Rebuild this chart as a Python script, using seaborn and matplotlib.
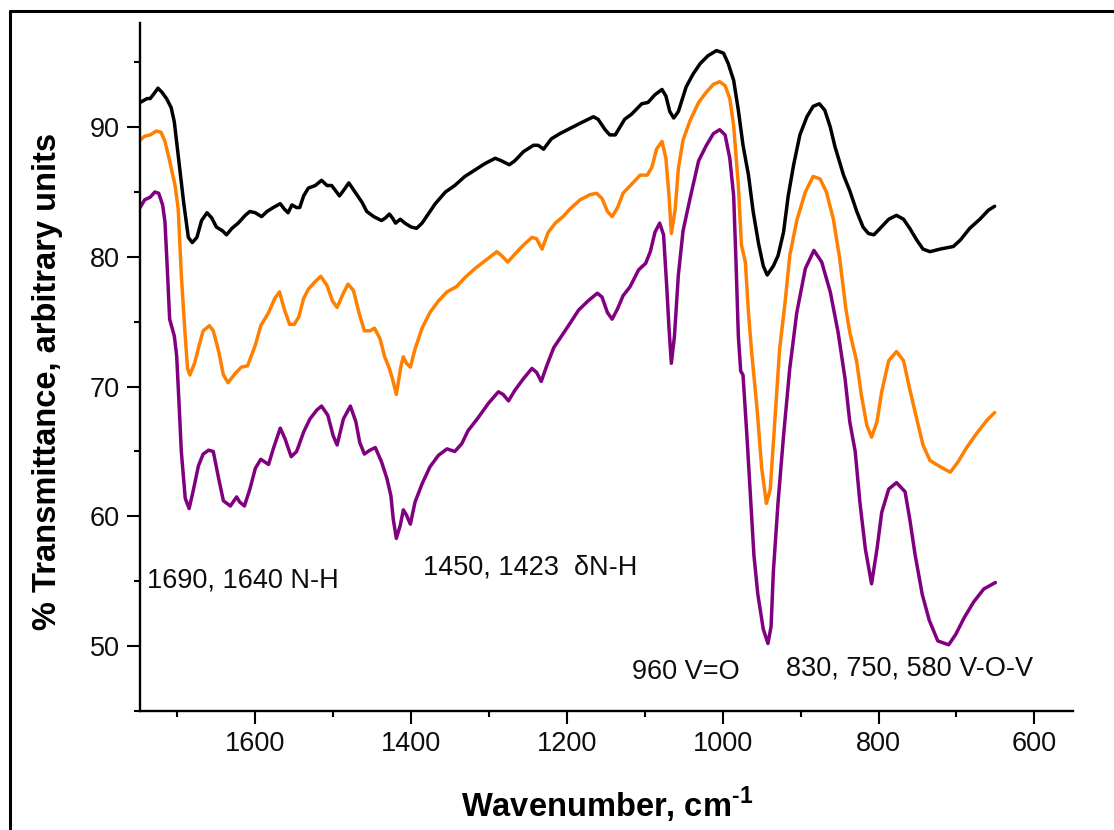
import matplotlib
matplotlib.use("Agg")
import matplotlib.pyplot as plt
from matplotlib.lines import Line2D
from matplotlib.ticker import MultipleLocator, FixedLocator
import seaborn as sns

# ---- FTIR spectra: wavenumber (cm-1) and % transmittance ----
black_wn = [1748, 1739, 1735, 1731, 1725, 1720, 1714, 1708, 1704, 1699, 1692, 1686,
            1681, 1675, 1669, 1662, 1656, 1650, 1642, 1637, 1630, 1622, 1613, 1607,
            1600, 1592, 1585, 1577, 1568, 1563, 1558, 1553, 1547, 1543, 1538, 1532,
            1523, 1515, 1508, 1502, 1492, 1487, 1480, 1472, 1463, 1457, 1448, 1438,
            1433, 1428, 1424, 1420, 1414, 1408, 1400, 1393, 1386, 1378, 1369, 1356,
            1344, 1331, 1318, 1305, 1292, 1284, 1274, 1267, 1256, 1243, 1237, 1230,
            1220, 1209, 1196, 1183, 1166, 1160, 1151, 1145, 1138, 1132, 1126, 1117,
            1104, 1096, 1087, 1078, 1073, 1068, 1063, 1057, 1047, 1038, 1029, 1019,
            1008, 999, 993, 986, 980, 974, 967, 961, 954, 948, 943, 935, 929, 922,
            916, 909, 901, 892, 884, 876, 869, 862, 856, 845, 837, 828, 820, 813,
            806, 798, 787, 777, 768, 760, 751, 743, 734, 721, 704, 695, 683, 670,
            659, 651]
black_t = [91.9, 92.2, 92.2, 92.5, 93.0, 92.7, 92.2, 91.5, 90.4, 87.8, 84.2, 81.5,
           81.1, 81.5, 82.8, 83.4, 83.0, 82.3, 82.0, 81.7, 82.2, 82.6, 83.2, 83.5,
           83.4, 83.1, 83.5, 83.8, 84.1, 83.7, 83.4, 84.0, 83.8, 83.8, 84.7, 85.3,
           85.5, 85.9, 85.5, 85.5, 84.7, 85.1, 85.7, 85.0, 84.2, 83.5, 83.1, 82.8,
           83.0, 83.3, 83.0, 82.6, 82.9, 82.6, 82.3, 82.2, 82.6, 83.3, 84.1, 85.0,
           85.5, 86.2, 86.7, 87.2, 87.6, 87.4, 87.1, 87.4, 88.1, 88.6, 88.6, 88.3,
           89.1, 89.5, 89.9, 90.3, 90.8, 90.6, 89.8, 89.4, 89.4, 90.0, 90.6, 91.0,
           91.8, 91.9, 92.5, 92.9, 92.4, 91.2, 90.7, 91.2, 93.1, 94.1, 94.9, 95.5,
           95.9, 95.7, 94.9, 93.6, 91.3, 88.6, 86.3, 83.5, 81.0, 79.3, 78.6, 79.3,
           80.1, 81.9, 84.7, 87.1, 89.4, 90.8, 91.6, 91.8, 91.3, 90.0, 88.5, 86.3,
           85.1, 83.5, 82.3, 81.8, 81.7, 82.2, 82.9, 83.2, 82.9, 82.2, 81.3, 80.6,
           80.4, 80.6, 80.8, 81.3, 82.2, 82.9, 83.6, 83.9]

orange_wn = [1748, 1742, 1735, 1727, 1721, 1716, 1710, 1703, 1699, 1695, 1690, 1687,
             1684, 1678, 1672, 1667, 1659, 1654, 1647, 1641, 1635, 1626, 1618, 1610,
             1600, 1593, 1583, 1575, 1569, 1563, 1556, 1550, 1544, 1538, 1532, 1523,
             1516, 1508, 1501, 1495, 1487, 1481, 1474, 1467, 1460, 1453, 1447, 1440,
             1434, 1428, 1424, 1419, 1413, 1410, 1406, 1401, 1395, 1386, 1376, 1365,
             1354, 1342, 1331, 1318, 1305, 1290, 1284, 1276, 1267, 1256, 1245, 1239,
             1232, 1224, 1215, 1205, 1196, 1183, 1170, 1162, 1155, 1148, 1142, 1135,
             1128, 1117, 1106, 1097, 1091, 1085, 1078, 1073, 1069, 1066, 1061, 1057,
             1051, 1042, 1031, 1021, 1012, 1004, 997, 991, 986, 980, 976, 971, 967,
             963, 956, 950, 944, 939, 933, 927, 920, 914, 905, 894, 884, 875, 867,
             858, 850, 842, 837, 828, 822, 815, 809, 802, 796, 787, 777, 768, 760,
             751, 743, 734, 723, 708, 698, 687, 674, 661, 651]
orange_t = [89.0, 89.3, 89.4, 89.7, 89.6, 88.9, 87.4, 85.5, 83.7, 78.6, 73.9, 71.4,
            70.9, 71.8, 73.2, 74.3, 74.7, 74.3, 72.7, 70.9, 70.3, 71.0, 71.5, 71.6,
            73.2, 74.7, 75.7, 76.8, 77.3, 76.0, 74.8, 74.8, 75.4, 76.8, 77.5, 78.1,
            78.5, 77.8, 76.6, 76.1, 77.2, 77.9, 77.4, 75.7, 74.3, 74.3, 74.5, 73.7,
            72.3, 71.4, 70.6, 69.4, 71.6, 72.3, 71.8, 71.5, 72.9, 74.5, 75.7, 76.6,
            77.3, 77.7, 78.4, 79.1, 79.7, 80.4, 80.1, 79.6, 80.2, 80.9, 81.5, 81.4,
            80.6, 81.9, 82.6, 83.1, 83.7, 84.4, 84.8, 84.9, 84.5, 83.5, 83.1, 83.8,
            84.9, 85.6, 86.3, 86.3, 86.9, 88.3, 88.9, 87.6, 84.7, 81.8, 83.7, 86.8,
            89.0, 90.5, 91.9, 92.7, 93.3, 93.5, 93.2, 92.2, 90.1, 85.5, 80.9, 79.6,
            75.7, 72.7, 68.3, 63.7, 61.0, 62.1, 67.5, 72.9, 76.5, 80.1, 82.8, 85.0,
            86.2, 86.0, 85.0, 82.9, 79.9, 76.0, 74.2, 71.9, 69.3, 67.0, 66.1, 67.3,
            69.6, 72.0, 72.7, 72.0, 69.8, 67.5, 65.5, 64.3, 63.9, 63.4, 64.2, 65.3,
            66.4, 67.4, 68.0]

purple_wn = [1748, 1742, 1735, 1729, 1724, 1719, 1716, 1713, 1710, 1704, 1701, 1698,
             1695, 1690, 1685, 1680, 1673, 1667, 1660, 1654, 1647, 1641, 1632, 1624,
             1620, 1614, 1607, 1600, 1593, 1583, 1577, 1568, 1562, 1554, 1547, 1538,
             1530, 1521, 1515, 1507, 1500, 1495, 1487, 1478, 1471, 1466, 1460, 1453,
             1446, 1438, 1431, 1426, 1423, 1419, 1414, 1410, 1406, 1401, 1395, 1386,
             1376, 1365, 1354, 1344, 1335, 1327, 1314, 1301, 1288, 1282, 1275, 1267,
             1256, 1245, 1239, 1233, 1226, 1217, 1207, 1198, 1185, 1173, 1161, 1155,
             1148, 1142, 1135, 1128, 1119, 1108, 1099, 1093, 1087, 1081, 1076, 1072,
             1069, 1066, 1062, 1057, 1051, 1042, 1031, 1021, 1012, 1004, 997, 991,
             986, 983, 980, 977, 974, 969, 964, 960, 955, 948, 942, 938, 935, 929,
             922, 914, 905, 894, 883, 873, 862, 852, 843, 837, 830, 824, 817, 809,
             802, 796, 787, 777, 766, 760, 753, 744, 735, 724, 710, 701, 690, 678,
             665, 650]
purple_t = [83.8, 84.4, 84.6, 85.0, 84.9, 84.0, 82.7, 79.1, 75.2, 73.9, 72.4, 68.8,
            65.0, 61.4, 60.6, 61.9, 63.9, 64.8, 65.1, 65.0, 62.9, 61.2, 60.8, 61.5,
            61.1, 60.8, 62.1, 63.7, 64.4, 64.0, 65.2, 66.8, 66.0, 64.6, 65.0, 66.5,
            67.5, 68.2, 68.5, 67.8, 66.2, 65.5, 67.5, 68.5, 67.3, 65.7, 64.8, 65.1,
            65.3, 64.2, 62.9, 61.6, 59.8, 58.3, 59.3, 60.5, 60.1, 59.4, 61.1, 62.5,
            63.8, 64.7, 65.2, 65.0, 65.6, 66.6, 67.6, 68.7, 69.6, 69.4, 68.9, 69.7,
            70.6, 71.4, 71.1, 70.4, 71.6, 73.0, 73.9, 74.7, 75.9, 76.6, 77.2, 76.9,
            75.7, 75.2, 76.0, 77.0, 77.7, 79.0, 79.5, 80.4, 81.9, 82.6, 81.7, 77.8,
            74.5, 71.8, 73.9, 78.6, 82.0, 84.5, 87.4, 88.6, 89.5, 89.8, 89.4, 87.6,
            84.7, 79.6, 73.9, 71.2, 70.9, 66.2, 61.1, 57.0, 54.0, 51.3, 50.2, 51.5,
            55.8, 61.1, 66.2, 71.4, 75.7, 79.1, 80.5, 79.6, 77.3, 74.2, 70.6, 67.3,
            65.0, 61.1, 57.5, 54.8, 57.5, 60.3, 62.1, 62.6, 61.9, 59.8, 57.0, 54.0,
            52.0, 50.4, 50.1, 50.9, 52.2, 53.4, 54.4, 54.9]

# Band assignments: label text, wavenumber at the left edge, transmittance at the baseline
band_labels = ["1690, 1640 N-H", "1450, 1423  \u03b4N-H", "960 V=O", "830, 750, 580 V-O-V"]
band_label_wn = [1739, 1385, 1116, 919]
band_label_t = [54.5, 55.5, 47.5, 47.7]

x_ticks = [1600, 1400, 1200, 1000, 800, 600]
y_ticks = [50, 60, 70, 80, 90]

sns.set_theme(style="ticks")
plt.rcParams["font.family"] = ["Liberation Sans", "DejaVu Sans"]
plt.rcParams["mathtext.fontset"] = "custom"
plt.rcParams["mathtext.bf"] = "Liberation Sans:bold"
plt.rcParams["mathtext.rm"] = "Liberation Sans:bold"

fig = plt.figure(figsize=(11.14, 8.30), dpi=100)
ax = fig.add_axes([0.1257, 0.1434, 0.8378, 0.8285])

series = [(black_wn, black_t, "#000000"),
          (orange_wn, orange_t, "#FF7F00"),
          (purple_wn, purple_t, "#800080")]
for wn, t, col in series:
    sns.lineplot(x=wn, y=t, sort=False, estimator=None, color=col, lw=2.5, ax=ax,
                 solid_joinstyle="round", solid_capstyle="round")

ax.set_xlim(1748, 550)
ax.set_ylim(45, 98)
ax.xaxis.set_major_locator(FixedLocator(x_ticks))
ax.xaxis.set_minor_locator(MultipleLocator(200, offset=100))
ax.yaxis.set_major_locator(FixedLocator(y_ticks))
ax.yaxis.set_minor_locator(MultipleLocator(5))

for side in ("top", "right"):
    ax.spines[side].set_visible(False)
for side in ("left", "bottom"):
    ax.spines[side].set_linewidth(1.7)
    ax.spines[side].set_color("black")

ax.tick_params(which="major", direction="out", length=9.4, width=1.5,
               labelsize=19.5, color="black", labelcolor="#0d0d0d", pad=5)
ax.tick_params(which="minor", direction="out", length=4.3, width=1.5, color="black")

ax.set_xlabel(r"Wavenumber, cm$^{\text{-1}}$", fontsize=23.5, fontweight="bold",
              color="black")
ax.set_ylabel("% Transmittance, arbitrary units", fontsize=23.5, fontweight="bold",
              color="black")
ax.xaxis.set_label_coords(0.5, -0.108)
ax.yaxis.set_label_coords(-0.082, 0.479)

for txt, xw, yt in zip(band_labels, band_label_wn, band_label_t):
    ax.text(xw, yt, txt, fontsize=19.5, ha="left", va="baseline", color="#0d0d0d")

# outer border of the figure panel (left and top edges)
fx = 9.5 / 1114
fy = 1 - 11.5 / 830
fig.add_artist(Line2D([fx, fx], [0, fy], transform=fig.transFigure, color="black", lw=2.2))
fig.add_artist(Line2D([fx, 1.0], [fy, fy], transform=fig.transFigure, color="black", lw=2.2))

fig.savefig("out.png", dpi=100, facecolor="white")
